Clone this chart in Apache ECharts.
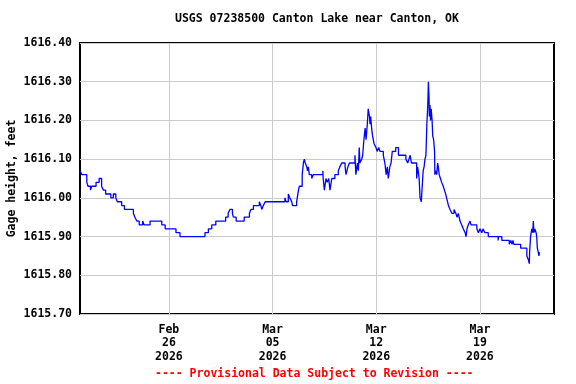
<!DOCTYPE html>
<html>
<head>
<meta charset="utf-8">
<script src="https://cdn.jsdelivr.net/npm/echarts@6/dist/echarts.min.js"></script>
<style>
html,body{margin:0;padding:0;background:#fff;}
#chart{width:576px;height:384px;}
</style>
</head>
<body>
<div id="chart"></div>
<script>
const titleText = 'USGS 07238500 Canton Lake near Canton, OK';
const footerText = '---- Provisional Data Subject to Revision ----';
const yAxisName = 'Gage height, feet';
const xMin = '2026-02-20 00:00';
const xMax = '2026-03-24 00:00';
const xTickDates = ['2026-02-26 00:00', '2026-03-05 00:00', '2026-03-12 00:00', '2026-03-19 00:00'];
const monthNames = ['Jan','Feb','Mar','Apr','May','Jun','Jul','Aug','Sep','Oct','Nov','Dec'];
const yMin = 1615.70, yMax = 1616.40, yStep = 0.1;

const times = [
'2026-02-20 00:00','2026-02-20 03:00','2026-02-20 11:00','2026-02-20 13:00','2026-02-20 17:00','2026-02-20 19:00',
'2026-02-21 02:00','2026-02-21 07:00','2026-02-21 11:00','2026-02-21 14:00','2026-02-21 17:30',
'2026-02-22 02:00','2026-02-22 06:00','2026-02-22 10:00','2026-02-22 12:30','2026-02-22 19:30',
'2026-02-23 00:00','2026-02-23 14:30','2026-02-23 17:00','2026-02-23 20:00',
'2026-02-24 00:00','2026-02-24 05:30','2026-02-24 08:00','2026-02-24 17:30',
'2026-02-25 12:30','2026-02-25 18:00','2026-02-26 11:30','2026-02-26 18:00',
'2026-02-28 10:30','2026-02-28 16:00','2026-02-28 21:30',
'2026-03-01 04:00','2026-03-01 20:00',
'2026-03-02 00:00','2026-03-02 03:00','2026-03-02 07:00','2026-03-02 08:30','2026-03-02 13:00',
'2026-03-03 02:00','2026-03-03 10:30','2026-03-03 13:00','2026-03-03 17:00',
'2026-03-04 02:30','2026-03-04 05:00','2026-03-04 06:30','2026-03-04 09:00','2026-03-04 12:00',
'2026-03-05 20:00','2026-03-05 22:00',
'2026-03-06 01:30','2026-03-06 04:00','2026-03-06 07:00','2026-03-06 08:30','2026-03-06 15:00','2026-03-06 16:00','2026-03-06 18:00','2026-03-06 19:30',
'2026-03-07 00:00','2026-03-07 02:00','2026-03-07 03:30','2026-03-07 05:00','2026-03-07 07:30','2026-03-07 08:30','2026-03-07 10:00','2026-03-07 11:30','2026-03-07 15:30','2026-03-07 18:00',
'2026-03-08 09:30','2026-03-08 10:00','2026-03-08 12:00','2026-03-08 14:30','2026-03-08 16:30','2026-03-08 19:00','2026-03-08 21:00',
'2026-03-09 00:00','2026-03-09 05:00','2026-03-09 10:30','2026-03-09 13:00','2026-03-09 16:00','2026-03-09 21:30','2026-03-09 23:00',
'2026-03-10 02:00','2026-03-10 04:30','2026-03-10 13:30','2026-03-10 15:00','2026-03-10 17:30','2026-03-10 19:00','2026-03-10 20:30','2026-03-10 21:30',
'2026-03-11 00:30','2026-03-11 02:00','2026-03-11 04:00','2026-03-11 06:00','2026-03-11 07:30','2026-03-11 09:30','2026-03-11 11:00','2026-03-11 13:00','2026-03-11 14:00','2026-03-11 15:00','2026-03-11 16:30','2026-03-11 18:00','2026-03-11 20:30','2026-03-11 23:30',
'2026-03-12 01:30','2026-03-12 04:00','2026-03-12 06:00','2026-03-12 11:30','2026-03-12 14:00','2026-03-12 16:00','2026-03-12 18:00','2026-03-12 19:30','2026-03-12 22:00',
'2026-03-13 00:00','2026-03-13 02:00','2026-03-13 07:30','2026-03-13 12:00',
'2026-03-14 00:00','2026-03-14 03:00','2026-03-14 05:00','2026-03-14 07:00','2026-03-14 09:00','2026-03-14 17:30','2026-03-14 19:00','2026-03-14 20:00','2026-03-14 21:30','2026-03-14 23:00',
'2026-03-15 01:00','2026-03-15 02:30','2026-03-15 04:00','2026-03-15 05:30','2026-03-15 07:00','2026-03-15 08:30','2026-03-15 10:00','2026-03-15 11:30','2026-03-15 12:30','2026-03-15 13:30','2026-03-15 14:00','2026-03-15 15:00','2026-03-15 16:00','2026-03-15 17:00','2026-03-15 18:30','2026-03-15 19:30','2026-03-15 21:00','2026-03-15 22:30','2026-03-15 23:00',
'2026-03-16 00:00','2026-03-16 02:00','2026-03-16 03:30','2026-03-16 04:30','2026-03-16 06:00','2026-03-16 08:00','2026-03-16 10:00','2026-03-16 12:30','2026-03-16 14:30','2026-03-16 16:30','2026-03-16 18:00','2026-03-16 21:00','2026-03-16 23:30',
'2026-03-17 02:30','2026-03-17 06:00','2026-03-17 09:00','2026-03-17 11:00','2026-03-17 13:00','2026-03-17 15:45','2026-03-17 18:30','2026-03-17 21:00',
'2026-03-18 00:00','2026-03-18 01:30','2026-03-18 03:00','2026-03-18 05:00','2026-03-18 08:00','2026-03-18 09:30','2026-03-18 19:00','2026-03-18 21:30',
'2026-03-19 00:00','2026-03-19 03:00','2026-03-19 05:00','2026-03-19 08:00','2026-03-19 13:30',
'2026-03-20 05:30','2026-03-20 06:00','2026-03-20 11:30','2026-03-20 23:30',
'2026-03-21 02:00','2026-03-21 04:00','2026-03-21 05:30','2026-03-21 07:00','2026-03-21 18:00',
'2026-03-22 04:00','2026-03-22 06:30','2026-03-22 08:00','2026-03-22 08:30','2026-03-22 10:00','2026-03-22 12:00','2026-03-22 13:30','2026-03-22 14:30','2026-03-22 15:30','2026-03-22 17:00','2026-03-22 19:00','2026-03-22 20:00','2026-03-22 21:00','2026-03-22 22:30','2026-03-22 23:30',
'2026-03-23 00:30'
];
const gageHeight = [
1616.07,1616.06,1616.04,1616.03,1616.02,1616.03,
1616.04,1616.05,1616.03,1616.02,1616.01,
1616.00,1616.01,1616.00,1615.99,1615.98,
1615.97,1615.96,1615.95,1615.94,
1615.93,1615.94,1615.93,1615.94,
1615.93,1615.92,1615.91,1615.90,
1615.91,1615.92,1615.93,
1615.94,1615.95,
1615.96,1615.97,1615.96,1615.95,1615.94,
1615.95,1615.96,1615.97,1615.98,
1615.99,1615.98,1615.97,1615.98,1615.99,
1616.00,1615.99,
1616.01,1616.00,1615.99,1615.98,1615.99,1616.00,1616.02,1616.03,
1616.06,1616.09,1616.10,1616.09,1616.08,1616.07,1616.08,1616.06,1616.05,1616.06,
1616.07,1616.05,1616.02,1616.05,1616.04,1616.05,1616.02,
1616.05,1616.06,1616.07,1616.08,1616.09,1616.08,1616.06,
1616.08,1616.09,1616.11,1616.06,1616.09,1616.07,1616.13,1616.09,
1616.10,1616.11,1616.15,1616.18,1616.15,1616.19,1616.23,1616.21,1616.19,1616.21,1616.18,1616.16,1616.14,1616.13,
1616.12,1616.13,1616.12,1616.11,1616.09,1616.06,1616.08,1616.05,1616.08,
1616.09,1616.12,1616.13,1616.11,
1616.10,1616.09,1616.10,1616.11,1616.09,1616.05,1616.08,1616.07,1616.05,1616.00,
1615.99,1616.03,1616.07,1616.08,1616.10,1616.11,1616.19,1616.24,1616.30,1616.26,1616.21,1616.24,1616.20,1616.23,1616.20,1616.16,1616.15,1616.12,1616.06,
1616.07,1616.06,1616.09,1616.08,1616.06,1616.05,1616.04,1616.03,1616.02,1616.01,1616.00,1615.98,1615.97,
1615.96,1615.97,1615.96,1615.95,1615.96,1615.94,1615.93,1615.92,
1615.91,1615.90,1615.92,1615.93,1615.94,1615.93,1615.92,1615.91,
1615.92,1615.91,1615.92,1615.91,1615.90,
1615.89,1615.90,1615.89,1615.88,
1615.89,1615.88,1615.89,1615.88,1615.87,
1615.85,1615.84,1615.83,1615.86,1615.90,1615.92,1615.91,1615.94,1615.91,1615.92,1615.91,1615.90,1615.87,1615.86,1615.85,
1615.86
];

const FONT = '"DejaVu Sans Mono", "Liberation Mono", monospace';
function toMs(s) { return echarts.time.parse(s).getTime(); }
const chart = echarts.init(document.getElementById('chart'), null, {renderer: 'canvas'});
const tickValues = xTickDates.map(toMs);
const seriesData = times.map((t, i) => [toMs(t), gageHeight[i]]);

chart.setOption({
  animation: false,
  backgroundColor: '#ffffff',
  grid: {left: 80, right: 22, top: 43, bottom: 70, show: true, borderColor: '#000', borderWidth: 2, backgroundColor: 'transparent', containLabel: false, outerBoundsMode: 'none'},
  graphic: [
    {type: 'text', left: 175, top: 13, style: {text: titleText, font: 'bold 11.5px ' + FONT, fill: '#000'}},
    {type: 'text', left: 155, top: 368, style: {text: footerText, font: 'bold 11.5px ' + FONT, fill: '#ff0000'}}
  ],
  xAxis: {
    type: 'value',
    min: toMs(xMin), max: toMs(xMax),
    axisLine: {show: false},
    axisTick: {show: false, customValues: tickValues},
    splitLine: {show: true, lineStyle: {color: '#cccccc', width: 1}},
    axisLabel: {
      customValues: tickValues,
      margin: 9,
      color: '#000',
      fontFamily: FONT, fontWeight: 'bold', fontSize: 11.5, lineHeight: 13.5,
      formatter: function (v) {
        const d = new Date(v);
        const dd = String(d.getDate()).padStart(2, '0');
        return monthNames[d.getMonth()] + '\n' + dd + '\n' + d.getFullYear();
      }
    }
  },
  yAxis: {
    type: 'value',
    min: yMin, max: yMax, interval: yStep,
    name: yAxisName, nameLocation: 'middle', nameGap: 62, nameRotate: 90, nameMoveOverlap: false,
    nameTextStyle: {color: '#000', fontFamily: FONT, fontWeight: 'bold', fontSize: 11.5},
    axisLine: {show: false},
    axisTick: {show: false},
    splitLine: {show: true, lineStyle: {color: '#cccccc', width: 1}},
    axisLabel: {
      margin: 8, color: '#000', fontFamily: FONT, fontWeight: 'bold', fontSize: 11.5,
      formatter: v => v.toFixed(2)
    }
  },
  series: [{
    type: 'line',
    data: seriesData,
    step: 'end',
    showSymbol: false,
    lineStyle: {color: '#0000ff', width: 1.3},
    z: 3
  }]
});
</script>
</body>
</html>
